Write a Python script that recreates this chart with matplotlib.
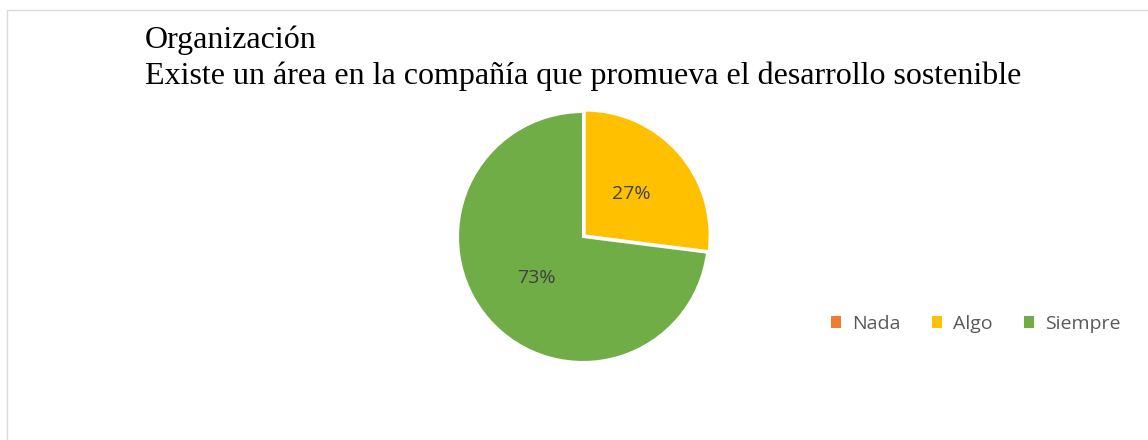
import matplotlib.pyplot as plt
from matplotlib.patches import Rectangle

categories = ["Nada", "Algo", "Siempre"]
values = [0, 27, 73]
colors = ["#ED7D31", "#FFC000", "#70AD47"]

title_lines = ["Organización",
               "Existe un área en la compañía que promueva el desarrollo sostenible"]

W, H = 1148, 440
fig = plt.figure(figsize=(W / 100, H / 100), dpi=100)
fig.patch.set_facecolor("white")

# thin chart-area border (top and left edges visible)
fig.add_artist(Rectangle((7 / W, -0.1), 1.2, (H - 10) / H + 0.1,
                         transform=fig.transFigure, fill=False,
                         edgecolor="#d9d9d9", linewidth=1))

for i, line in enumerate(title_lines):
    fig.text(145 / W, 1 - (48 + i * 36) / H, line, family="Liberation Serif",
             fontsize=23, color="#000000", va="baseline", ha="left")

# pie axes: centre (583, 237) px, radius 125 px
r = 125
pad = 1.1
ax = fig.add_axes([(583 - r * pad) / W, (H - 237 - r * pad) / H,
                   2 * r * pad / W, 2 * r * pad / H])


def fmt(p):
    return f"{p:.0f}%" if p > 0.5 else ""


wedges, texts, autotexts = ax.pie(
    values, colors=colors, startangle=90, counterclock=False,
    explode=[0, 0.018, 0], autopct=fmt, pctdistance=0.5,
    wedgeprops=dict(edgecolor="white", linewidth=1.5),
    textprops=dict(family="Open Sans", fontsize=14, color="#404040"))
ax.set_xlim(-pad, pad)
ax.set_ylim(-pad, pad)
ax.set_aspect("auto")
ax.axis("off")

handles = [Rectangle((0, 0), 1, 1, facecolor=c, edgecolor="none") for c in colors]
fig.legend(handles, categories, loc="center left",
           bbox_to_anchor=(813 / W, 1 - 324 / H), ncol=3, frameon=False,
           prop=dict(family="Open Sans", size=14), labelcolor="#595959",
           handlelength=0.55, handleheight=0.55, handletextpad=0.55,
           columnspacing=1.6)

fig.savefig("out.png", dpi=100)
